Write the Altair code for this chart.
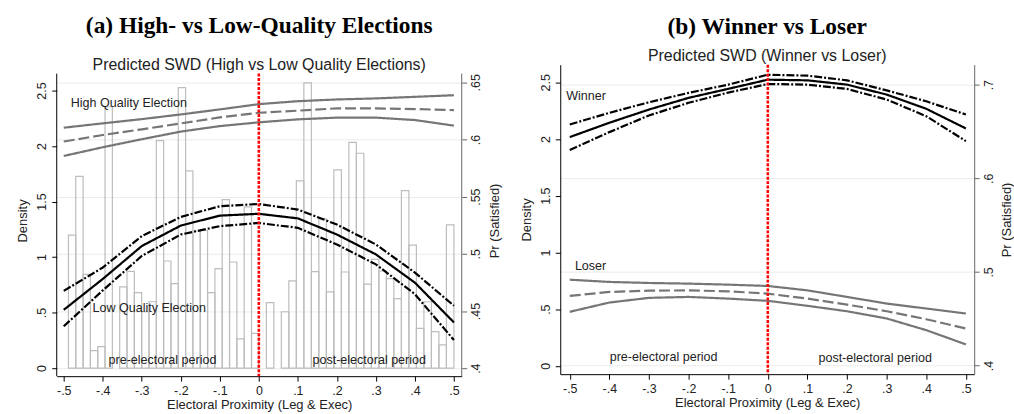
import altair as alt
import pandas as pd

FONT = "Liberation Sans"

# ---------------- data ----------------
knots = [-0.5, -0.4, -0.3, -0.2, -0.1, 0.0, 0.1, 0.2, 0.3, 0.4, 0.5]

# Panel (a): predicted Pr(Satisfied)
lq_upper = [0.4676, 0.4880, 0.5155, 0.5323, 0.5416, 0.5436, 0.5387, 0.5256, 0.5082, 0.4836, 0.4546]
lq_center = [0.4510, 0.4780, 0.5068, 0.5247, 0.5334, 0.5350, 0.5310, 0.5169, 0.4995, 0.4748, 0.4400]
lq_lower = [0.4366, 0.4680, 0.4981, 0.5169, 0.5242, 0.5270, 0.5227, 0.5082, 0.4908, 0.4647, 0.4246]
hq_upper = [0.6103, 0.6141, 0.6178, 0.6219, 0.6263, 0.6309, 0.6335, 0.6350, 0.6359, 0.6373, 0.6387]
hq_center = [0.5982, 0.6039, 0.6089, 0.6141, 0.6193, 0.6234, 0.6252, 0.6272, 0.6272, 0.6266, 0.6257]
hq_lower = [0.5856, 0.5932, 0.6002, 0.6069, 0.6117, 0.6150, 0.6176, 0.6191, 0.6191, 0.6170, 0.6121]

# Panel (a): histogram densities (pre and post electoral bins)
pre_density = [1.198, 1.727, 0.845, 0.158, 0.194, 2.354, 0.0, 0.732, 0.872, 0.681, 0.508, 0.598, 2.049,
               0.965, 0.762, 2.527, 1.777, 1.235, 1.240, 0.681, 0.896, 1.517, 0.956, 0.263, 1.452, 0.314]
post_density = [0.0, 0.591, 0.0, 0.508, 0.786, 1.687, 2.569, 0.869, 1.344, 0.687, 1.786, 0.866, 2.034,
                1.935, 0.756, 0.980, 0.875, 0.806, 0.627, 1.598, 1.108, 0.358, 0.598, 0.329, 0.209, 1.290]
pre_start, pre_end = -0.488, 0.0
post_start, post_end = 0.0, 0.5

# Panel (b)
win_upper = [0.6575, 0.6699, 0.6812, 0.6912, 0.7000, 0.7106, 0.7096, 0.7046, 0.6939, 0.6822, 0.6681]
win_center = [0.6440, 0.6593, 0.6734, 0.6859, 0.6955, 0.7053, 0.7046, 0.7000, 0.6894, 0.6742, 0.6532]
win_lower = [0.6302, 0.6493, 0.6671, 0.6806, 0.6915, 0.7007, 0.7000, 0.6954, 0.6841, 0.6663, 0.6397]
los_upper = [0.4917, 0.4893, 0.4882, 0.4875, 0.4864, 0.4850, 0.4803, 0.4733, 0.4662, 0.4609, 0.4556]
los_center = [0.4744, 0.4786, 0.4800, 0.4803, 0.4793, 0.4768, 0.4715, 0.4651, 0.4580, 0.4495, 0.4396]
los_lower = [0.4574, 0.4673, 0.4723, 0.4733, 0.4715, 0.4691, 0.4638, 0.4580, 0.4503, 0.4378, 0.4226]

x_ticks = [-0.5, -0.4, -0.3, -0.2, -0.1, 0.0, 0.1, 0.2, 0.3, 0.4, 0.5]
dens_ticks = [0, 0.5, 1, 1.5, 2, 2.5]
pr_ticks_a = [0.4, 0.45, 0.5, 0.55, 0.6, 0.65]
pr_ticks_b = [0.4, 0.5, 0.6, 0.7]

# annotation positions (data coords)
ann_a_left = pd.DataFrame({"x": [-0.482, -0.426], "y": [0.6315, 0.4522],
                           "t": ["High Quality Election", "Low Quality Election"]})
ann_a_mid = pd.DataFrame({"x": [-0.247, 0.283], "y": [0.407, 0.407],
                          "t": ["pre-electoral period", "post-electoral period"]})
ann_b_left = pd.DataFrame({"x": [-0.509, -0.487], "y": [0.6883, 0.506], "t": ["Winner", "Loser"]})
ann_b_mid = pd.DataFrame({"x": [-0.263, 0.271], "y": [0.4088, 0.4078],
                          "t": ["pre-electoral period", "post-electoral period"]})

# ---------------- helpers ----------------
X_LABEL = "(datum.value < 0 ? '-' : '') + replace(format(abs(datum.value), '.1~f'), '0.', '.')"
Y_LABEL = "replace(format(datum.value, '~g'), '0.', '.')"
TXT = "#222222"
AX = dict(labelFont=FONT, titleFont=FONT, labelFontSize=12.5, titleFontSize=13,
          labelColor=TXT, titleColor=TXT, titleFontWeight="normal")
RIGHT_COL = "#666666"


def xenc(field, dom):
    return alt.X(field, type="quantitative",
                 scale=alt.Scale(domain=dom, nice=False, zero=False),
                 axis=alt.Axis(values=x_ticks, labelExpr=X_LABEL, tickSize=5, labelPadding=3,
                               domainColor="black", tickColor="black", grid=False,
                               title="Electoral Proximity (Leg & Exec)", titlePadding=2,
                               labelFlush=False, **AX))


def penc(field, dom, ticks, show_domain=True):
    return alt.Y(field, type="quantitative",
                 scale=alt.Scale(domain=dom, nice=False, zero=False),
                 axis=alt.Axis(orient="right", values=ticks, labelExpr=Y_LABEL, tickSize=5,
                               labelAngle=270, labelAlign="center", labelBaseline="top",
                               labelPadding=3, domain=show_domain, domainColor=RIGHT_COL,
                               tickColor=RIGHT_COL, grid=True, gridColor="#ebebeb",
                               title="Pr (Satisfied)", titleAngle=270, titleBaseline="top",
                               titlePadding=6, **AX))


def denc(field, dom, show_domain=True):
    return alt.Y(field, type="quantitative",
                 scale=alt.Scale(domain=dom, nice=False, zero=False),
                 axis=alt.Axis(orient="left", values=dens_ticks, labelExpr=Y_LABEL, tickSize=5,
                               labelAngle=270, labelAlign="center", labelBaseline="bottom",
                               labelPadding=3, domain=show_domain, domainColor="black",
                               tickColor="black", grid=False, title="Density", titlePadding=6, **AX))


def lines_df(series):
    rows = []
    for name, vals in series.items():
        for k, v in zip(knots, vals):
            rows.append({"x": k, "pr": v, "s": name})
    return pd.DataFrame(rows)


def line_layer(df, styles, xdom, pdom, pticks, sd=True):
    names = list(styles.keys())
    return alt.Chart(df).mark_line(strokeCap="butt").encode(
        x=xenc("x", xdom),
        y=penc("pr", pdom, pticks, sd),
        detail="s:N",
        color=alt.Color("s:N", scale=alt.Scale(domain=names, range=[styles[n][0] for n in names]), legend=None),
        strokeDash=alt.StrokeDash("s:N", scale=alt.Scale(domain=names, range=[styles[n][1] for n in names]), legend=None),
        strokeWidth=alt.StrokeWidth("s:N", scale=alt.Scale(domain=names, range=[styles[n][2] for n in names]), legend=None),
    )


def text_layers(dfl, dfm, xdom, pdom, pticks, sd=True):
    tl = alt.Chart(dfl).mark_text(align="left", baseline="middle", font=FONT, fontSize=12.6, color=TXT).encode(
        x=xenc("x", xdom), y=penc("y", pdom, pticks, sd), text="t:N")
    tm = alt.Chart(dfm).mark_text(align="center", baseline="middle", font=FONT, fontSize=12.6, color=TXT).encode(
        x=xenc("x", xdom), y=penc("y", pdom, pticks, sd), text="t:N")
    return tl, tm


GRAY = "#767676"
DASH_A = [8, 2, 2, 2]
DASH_B = [7, 3]
RED_DASH = [3, 1.5]

# ---------------- panel (a) ----------------
XA = [-0.518, 0.52]
PA = [0.393, 0.6654]          # scale domain (top includes blank band above frame)
PA_FRAME = [0.393, 0.6576]    # visible frame of the plot
DA = [-0.072, 2.7326]
DA_FRAME = [-0.072, 2.652]

n_pre = len(pre_density)
n_post = len(post_density)
w_pre = (pre_end - pre_start) / n_pre
w_post = (post_end - post_start) / n_post
hist_rows = []
for i, d in enumerate(pre_density):
    hist_rows.append({"x0": pre_start + i * w_pre, "x1": pre_start + (i + 1) * w_pre, "d": d, "b": 0.0})
for i, d in enumerate(post_density):
    hist_rows.append({"x0": post_start + i * w_post, "x1": post_start + (i + 1) * w_post, "d": d, "b": 0.0})
hist_df = pd.DataFrame(hist_rows)
hist_df = hist_df[hist_df["d"] > 0]

hist = alt.Chart(hist_df).mark_rect(fillOpacity=0, stroke="#bdbdbd", strokeWidth=1.2).encode(
    x=xenc("x0", XA), x2="x1", y=denc("d", DA, False), y2="b")
left_line_a = alt.Chart(pd.DataFrame({"x": [XA[0]], "y0": [DA_FRAME[0]], "y1": [DA_FRAME[1]]})).mark_rule(
    color="black", strokeWidth=1).encode(x=xenc("x", XA), y=denc("y1", DA, False), y2="y0")
dens_layer_a = alt.layer(hist, left_line_a)

styles_a = {
    "hq_upper": (GRAY, [1, 0], 2.2),
    "hq_lower": (GRAY, [1, 0], 2.2),
    "hq_center": (GRAY, [11, 4], 3),
    "lq_upper": ("black", DASH_A, 3),
    "lq_lower": ("black", DASH_A, 3),
    "lq_center": ("black", [1, 0], 3),
}
df_a = lines_df({"hq_upper": hq_upper, "hq_lower": hq_lower, "hq_center": hq_center,
                 "lq_upper": lq_upper, "lq_lower": lq_lower, "lq_center": lq_center})
tl_a, tm_a = text_layers(ann_a_left, ann_a_mid, XA, PA, pr_ticks_a, False)
frame_a = pd.DataFrame({"x": [0.0, XA[1]], "y0": [PA_FRAME[0]] * 2, "y1": [PA_FRAME[1]] * 2,
                        "k": ["zero", "axis"]})
red_a = alt.Chart(frame_a[frame_a["k"] == "zero"]).mark_rule(
    color="red", strokeDash=RED_DASH, strokeWidth=2.6).encode(
    x=xenc("x", XA), y=penc("y1", PA, pr_ticks_a, False), y2="y0")
right_line_a = alt.Chart(frame_a[frame_a["k"] == "axis"]).mark_rule(
    color=RIGHT_COL, strokeWidth=1).encode(
    x=xenc("x", XA), y=penc("y1", PA, pr_ticks_a, False), y2="y0")
inner_a = alt.layer(right_line_a, line_layer(df_a, styles_a, XA, PA, pr_ticks_a, False), red_a, tl_a, tm_a)

panel_a = alt.layer(dens_layer_a, inner_a).resolve_scale(y="independent").properties(
    width=407, height=313,
    title=alt.TitleParams(text="(a) High- vs Low-Quality Elections",
                          subtitle="Predicted SWD (High vs Low Quality Elections)",
                          font="Liberation Serif", fontSize=23.5, fontWeight="bold", color="black",
                          subtitleFont=FONT, subtitleFontSize=16, subtitleColor=TXT,
                          anchor="middle", frame="group", offset=6, dy=14, subtitlePadding=19))

# ---------------- panel (b) ----------------
XB = [-0.524, 0.521]
PB = [0.3908, 0.7213]
DB = [-0.073, 2.655]

dens_axis_b = alt.Chart(pd.DataFrame({"d": dens_ticks})).mark_point(opacity=0).encode(y=denc("d", DB))

styles_b = {
    "los_upper": (GRAY, [1, 0], 2.2),
    "los_lower": (GRAY, [1, 0], 2.2),
    "los_center": (GRAY, [11, 4], 3),
    "win_upper": ("black", DASH_B, 3),
    "win_lower": ("black", DASH_B, 3),
    "win_center": ("black", [1, 0], 3),
}
df_b = lines_df({"los_upper": los_upper, "los_lower": los_lower, "los_center": los_center,
                 "win_upper": win_upper, "win_lower": win_lower, "win_center": win_center})
tl_b, tm_b = text_layers(ann_b_left, ann_b_mid, XB, PB, pr_ticks_b)
red_b = alt.Chart(pd.DataFrame({"x": [0.0]})).mark_rule(
    color="red", strokeDash=RED_DASH, strokeWidth=2.6).encode(x=xenc("x", XB))
inner_b = alt.layer(line_layer(df_b, styles_b, XB, PB, pr_ticks_b), red_b, tl_b, tm_b)

panel_b = alt.layer(dens_axis_b, inner_b).resolve_scale(y="independent").properties(
    width=416, height=311,
    title=alt.TitleParams(text="(b) Winner vs Loser",
                          subtitle="Predicted SWD (Winner vs Loser)",
                          font="Liberation Serif", fontSize=23.5, fontWeight="bold", color="black",
                          subtitleFont=FONT, subtitleFontSize=16, subtitleColor=TXT,
                          anchor="middle", frame="group", offset=3, dy=4, subtitlePadding=10))

chart = alt.concat(panel_a, panel_b, columns=2, align="none", spacing=19).properties(
    padding={"left": 17, "top": 13, "right": 0, "bottom": 0}
).configure(background="white").configure_view(stroke=None)

chart.save("out.html", embed_options={"renderer": "svg", "actions": False})
